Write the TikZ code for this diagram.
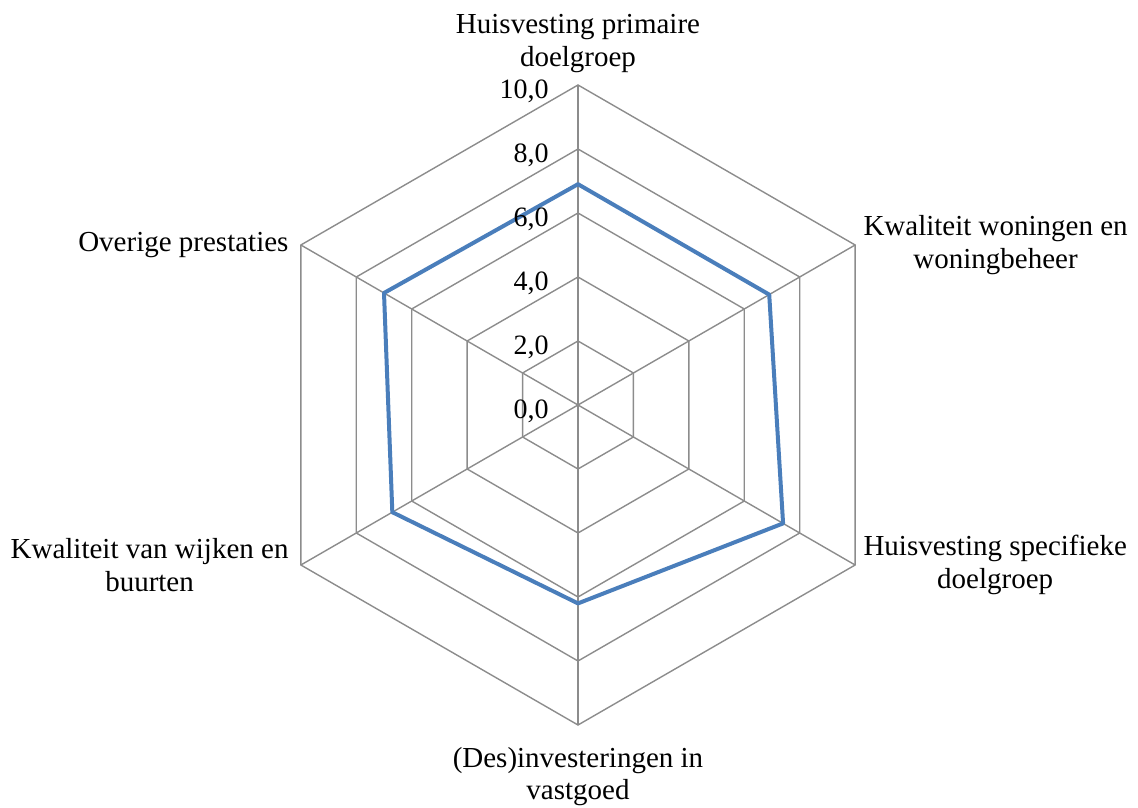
\documentclass[tikz,border=0pt]{standalone}
\usepackage{fontspec}
\setmainfont{Liberation Serif}
\definecolor{scoreblue}{HTML}{4A7EBB}
\definecolor{gridgray}{HTML}{8C8C8C}
\tikzset{
  grid line/.style={draw=gridgray,line width=0.7pt},
  score line/.style={draw=scoreblue,line width=2pt,line join=round},
  cat label/.style={align=center,font=\fontsize{14.5}{16.2}\selectfont,inner sep=2pt},
  tick label/.style={anchor=east,font=\fontsize{14}{16}\selectfont,inner sep=0pt}
}
\begin{document}
\begin{tikzpicture}[x=0.5pt,y=0.5pt]
\useasboundingbox (-578,-402) rectangle (560,405);
\coordinate (c) at (0,0);
% hexagon rings, 2,0 apart
\foreach \r in {1,...,5}{
\draw[grid line](90:64*\r)--(30:64*\r)--(-30:64*\r)--(-90:64*\r)--(-150:64*\r)--(150:64*\r)--cycle;
}
% spokes
\foreach \i/\a in {1/90,2/30,3/-30,4/-90,5/-150,6/150}{
\coordinate (v\i) at (\a:320);
\draw[grid line](c)--(v\i);
}
% scores
\draw[score line](90:6.9*32)--(30:6.9*32)--(-30:7.4*32)--(-90:6.2*32)--(-150:6.7*32)--(150:7.0*32)--cycle;
% axis values
\foreach \r in {0,...,5}{
\node[tick label](tick\r) at (-29,64*\r-6) {\number\numexpr2*\r\relax,0};
}
% categories
\node[cat label,anchor=south](prim) at ([yshift=4]v1) {Huisvesting primaire\\doelgroep};
\node[cat label,anchor=west](won) at ([xshift=2]v2) {Kwaliteit woningen en\\woningbeheer};
\node[cat label,anchor=west](spec) at ([xshift=2]v3) {Huisvesting specifieke\\doelgroep};
\node[cat label,anchor=north](vast) at ([yshift=-9]v4) {(Des)investeringen in\\vastgoed};
\node[cat label,anchor=east](wijk) at ([xshift=-4]v5) {Kwaliteit van wijken en\\buurten};
\node[cat label,anchor=east](over) at ([xshift=-4]v6) {Overige prestaties};
\end{tikzpicture}
\end{document}
